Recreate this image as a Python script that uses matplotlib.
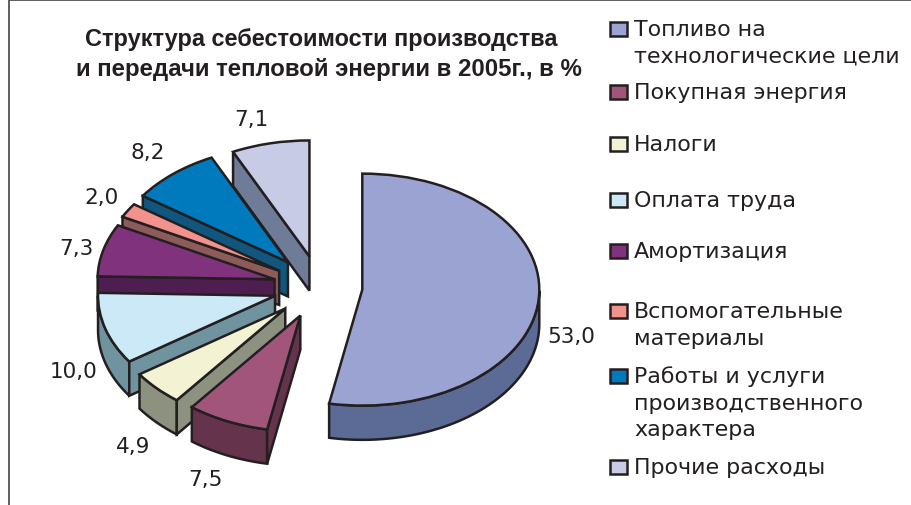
import numpy as np
import matplotlib
matplotlib.use('Agg')
from matplotlib import pyplot as plt
from matplotlib.patches import Polygon, Rectangle

plt.rcParams['font.family'] = ['DejaVu Sans']

title_lines = ['Структура себестоимости производства', 'и передачи тепловой энергии в 2005г., в %']
names = ['Топливо на\nтехнологические цели', 'Покупная энергия', 'Налоги', 'Оплата труда', 'Амортизация',
         'Вспомогательные\nматериалы', 'Работы и услуги\nпроизводственного\nхарактера', 'Прочие расходы']
values = [53.0, 7.5, 4.9, 10.0, 7.3, 2.0, 8.2, 7.1]
value_labels = ['53,0', '7,5', '4,9', '10,0', '7,3', '2,0', '8,2', '7,1']
explode = [0.24, 0.27, 0.27, 0.265, 0.265, 0.27, 0.28, 0.27]
top_colors = ['#9aa3d2', '#a2557b', '#f3f2d3', '#cbe9f6', '#81327c', '#f1938c', '#0079bd', '#c8cbe6']
side_colors = ['#5b6b96', '#65334c', '#8d917f', '#6f949f', '#4d1e4f', '#8e5b5b', '#11567f', '#6f7c98']

# pixel places of the texts
label_xy = [(571, 337), (205, 480), (133, 447), (74, 372), (76, 249), (102, 198), (148, 153), (251, 120)]
legend_y = [30, 93, 145, 201, 252, 312, 377, 468]

W, H = 911, 506
cx, cy = 320, 288
rx, ry = 177, 116
depth = 0.295
dark = '#231f20'
lw = 1.8

fig = plt.figure(figsize=(W / 100, H / 100), dpi=100, facecolor='white')
ax = fig.add_axes([0, 0, 1, 1])
wedges, _ = ax.pie(values, explode=explode, colors=top_colors, startangle=90, counterclock=False,
                   wedgeprops=dict(edgecolor=dark, linewidth=lw))
ax.set_aspect('auto')
ax.set_xlim(-cx / rx, (W - cx) / rx)
ax.set_ylim((cy - H) / ry, cy / ry)
ax.axis('off')

n = len(values)
for i, w in enumerate(wedges):
    # later slices lie behind earlier ones, the big one is in front
    z = 10 + 3 * (n - i)
    w.set_zorder(z + 1)
    x0, y0 = w.center
    t1, t2 = w.theta1, w.theta2
    # outer rim
    t = np.radians(np.linspace(t1, t2, 300))
    t = t[np.sin(t) < 0]
    if len(t) > 1:
        xs = x0 + np.cos(t)
        ys = y0 + np.sin(t)
        pts = np.r_[np.c_[xs, ys], np.c_[xs, ys - depth][::-1]]
        ax.add_patch(Polygon(pts, closed=True, fc=side_colors[i], ec=dark, lw=lw, zorder=z))
    # cut walls that face the viewer
    for a, seen in ((t1, np.cos(np.radians(t1)) > 1e-6), (t2, np.cos(np.radians(t2)) < -1e-6)):
        if seen:
            ex = x0 + np.cos(np.radians(a))
            ey = y0 + np.sin(np.radians(a))
            pts = [(x0, y0), (ex, ey), (ex, ey - depth), (x0, y0 - depth)]
            ax.add_patch(Polygon(pts, closed=True, fc=side_colors[i], ec=dark, lw=lw, zorder=z))

# overlay in pixels for texts and legend
ov = fig.add_axes([0, 0, 1, 1], facecolor='none')
ov.set_xlim(0, W)
ov.set_ylim(H, 0)
ov.axis('off')

ov.plot([9, 9, W], [H, 1, 1], color='#444444', lw=1.2, clip_on=False)

ov.text(321, 39, title_lines[0], ha='center', va='center', fontsize=16.9, fontweight='bold',
        family='Liberation Sans', color=dark)
ov.text(329, 69, title_lines[1], ha='center', va='center', fontsize=17.3, fontweight='bold',
        family='Liberation Sans', color=dark)

for s, (x, y) in zip(value_labels, label_xy):
    ov.text(x, y, s, ha='center', va='center', fontsize=15.5, color=dark)

for name, c, y in zip(names, top_colors, legend_y):
    ov.add_patch(Rectangle((610, y - 7), 17, 14, fc=c, ec=dark, lw=lw))
    for k, line in enumerate(name.split('\n')):
        ov.text(634, y + k * 26.6, line, ha='left', va='center', fontsize=15.9, color=dark)

fig.savefig('out.png', dpi=100)
